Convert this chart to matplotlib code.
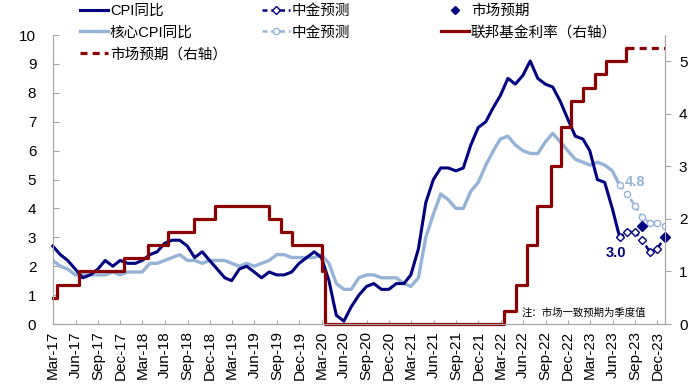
import matplotlib
matplotlib.use('Agg')
import matplotlib.pyplot as plt
from matplotlib.lines import Line2D
import pandas as pd

plt.rcParams['font.family'] = ['Liberation Sans', 'Noto Sans CJK SC', 'DejaVu Sans']

# 月度同比 (2017-02 .. 2023-06, 月末日期)
cpi = [2.7, 2.4, 2.2, 1.9, 1.6, 1.7, 1.9, 2.2, 2.0, 2.2, 2.1,
       2.1, 2.2, 2.4, 2.5, 2.8, 2.9, 2.9, 2.7, 2.3, 2.5, 2.2, 1.9,
       1.6, 1.5, 1.9, 2.0, 1.8, 1.6, 1.8, 1.7, 1.7, 1.8, 2.1, 2.3,
       2.5, 2.3, 1.5, 0.3, 0.1, 0.6, 1.0, 1.3, 1.4, 1.2, 1.2, 1.4,
       1.4, 1.7, 2.6, 4.2, 5.0, 5.4, 5.4, 5.3, 5.4, 6.2, 6.8, 7.0,
       7.5, 7.9, 8.5, 8.3, 8.6, 9.1, 8.5, 8.3, 8.2, 7.7, 7.1, 6.5,
       6.4, 6.0, 5.0, 4.9, 4.0, 3.0]
core = [2.2, 2.0, 1.9, 1.7, 1.7, 1.7, 1.7, 1.7, 1.8, 1.7, 1.8,
        1.8, 1.8, 2.1, 2.1, 2.2, 2.3, 2.4, 2.2, 2.2, 2.1, 2.2, 2.2,
        2.2, 2.1, 2.0, 2.1, 2.0, 2.1, 2.2, 2.4, 2.4, 2.3, 2.3, 2.3,
        2.3, 2.4, 2.1, 1.4, 1.2, 1.2, 1.6, 1.7, 1.7, 1.6, 1.6, 1.6,
        1.4, 1.3, 1.6, 3.0, 3.8, 4.5, 4.3, 4.0, 4.0, 4.6, 4.9, 5.5,
        6.0, 6.4, 6.5, 6.2, 6.0, 5.9, 5.9, 6.3, 6.6, 6.3, 6.0, 5.7,
        5.6, 5.5, 5.6, 5.5, 5.3, 4.8]
cpi_dates = pd.date_range('2017-02-28', '2023-06-30', freq='ME')

# 中金预测 (2023-06 .. 2023-12)
fc_dates = pd.date_range('2023-06-30', '2023-12-31', freq='ME')
cicc_cpi = [3.0, 3.2, 3.2, 2.9, 2.5, 2.6, 3.0]
cicc_core = [4.8, 4.5, 4.1, 3.7, 3.5, 3.5, 3.4]

# 市场预期 (季度)
mkt_dates = pd.to_datetime(['2023-09-30', '2023-12-31'])
mkt_cpi = [3.4, 3.0]

# 联邦基金利率 (右轴)
fed_dates = pd.to_datetime(['2017-03-01', '2017-03-16', '2017-06-15', '2017-12-14',
                            '2018-03-22', '2018-06-14', '2018-09-27', '2018-12-20',
                            '2019-08-01', '2019-09-19', '2019-10-31', '2020-03-04',
                            '2020-03-16', '2022-03-17', '2022-05-05', '2022-06-16',
                            '2022-07-28', '2022-09-22', '2022-11-03', '2022-12-15',
                            '2023-02-02', '2023-03-23', '2023-05-04', '2023-07-27',
                            '2023-07-31'])
fed_rates = [0.5, 0.75, 1.0, 1.25, 1.5, 1.75, 2.0, 2.25, 2.0, 1.75, 1.5, 1.0,
             0.0, 0.25, 0.75, 1.5, 2.25, 3.0, 3.75, 4.25, 4.5, 4.75, 5.0, 5.25,
             5.25]
fed_mkt_dates = pd.to_datetime(['2023-07-31', '2023-12-31'])
fed_mkt = [5.25, 5.25]

navy = '#000080'
lblue = '#95B3D7'
dred = '#8B0000'
grey = '#A6A6A6'

fig = plt.figure(figsize=(7, 3.89), dpi=100)
ax = fig.add_axes([0.0757, 0.167, 0.95 - 0.0757, 0.743])
ax2 = ax.twinx()

ax.plot(cpi_dates, core, color=lblue, lw=2.4, zorder=2)
ax.plot(cpi_dates, cpi, color=navy, lw=2.2, zorder=3, clip_on=False)
ax.plot(fc_dates, cicc_core, color=lblue, lw=1.8, ls=(0, (2, 1.5)), marker='o',
        ms=4.5, mfc='white', mec=lblue, mew=1, zorder=3)
ax.plot(fc_dates, cicc_cpi, color=navy, lw=1.8, ls=(0, (2, 1.5)), marker='D',
        ms=4, mfc='white', mec=navy, mew=1, zorder=4)
ax.plot(mkt_dates, mkt_cpi, ls='none', marker='D', ms=5, color=navy, zorder=5,
        clip_on=False)

ax2.step(fed_dates, fed_rates, where='post', color=dred, lw=2.3, clip_on=False)
ax2.plot(fed_mkt_dates, fed_mkt, color=dred, lw=2.3, ls=(0, (2.2, 1.6)))

ax.annotate('3.0', (cpi_dates[-1], cpi[-1]), xytext=(-3, -11.5),
            textcoords='offset points', ha='center', va='center',
            color=navy, fontsize=10.5, fontweight='bold')
ax.annotate('4.8', (fc_dates[0], cicc_core[0]), xytext=(11, 2.4),
            textcoords='offset points', ha='center', va='center',
            color=lblue, fontsize=10.5, fontweight='bold')
ax.text(0.765, 0.04, '注：市场一致预期为季度值', transform=ax.transAxes,
        fontsize=7.5, style='italic', ha='left', va='center')

ax.set_xlim(pd.Timestamp('2017-03-01'), pd.Timestamp('2024-01-01'))
ax.set_ylim(0, 10)
ax2.set_ylim(0, 5.5)
ax.set_yticks(range(0, 11))
ax2.set_yticks(range(0, 6))

ticks = pd.date_range('2017-03-01', '2023-12-01', freq='3MS')
ax.set_xticks(ticks)
ax.set_xticklabels([t.strftime('%b-%y') for t in ticks], rotation=90)

for a in (ax, ax2):
    for s in a.spines.values():
        s.set_color(grey)
    a.spines['top'].set_visible(False)
ax.tick_params(axis='y', direction='in', length=4, color=grey, labelsize=11, pad=12)
ax.tick_params(axis='x', direction='in', length=3, color=grey, labelsize=11, pad=5)
ax2.tick_params(axis='y', direction='out', length=4, color=grey, labelsize=11, pad=6)

def h(**kw):
    return Line2D([], [], **kw)

leg_kw = dict(frameon=False, fontsize=10.5, handlelength=1.9, handletextpad=0.15,
              labelspacing=0.52, borderpad=0, borderaxespad=0, loc='upper left')
top = 1 - 4 / 389
l1 = fig.legend([h(color=navy, lw=2.2), h(color=lblue, lw=2.4),
                 h(color=dred, lw=2.3, ls=(0, (2.2, 1.6)))],
                ['CPI同比', '核心CPI同比', '市场预期（右轴）'],
                bbox_to_anchor=(80 / 700, top), **leg_kw)
l2 = fig.legend([h(color=navy, lw=1.8, ls=(0, (2, 1.5)), marker='D', ms=4, mfc='white', mew=1),
                 h(color=lblue, lw=1.8, ls=(0, (2, 1.5)), marker='o', ms=4.5, mfc='white', mew=1)],
                ['中金预测', '中金预测'],
                bbox_to_anchor=(262 / 700, top), **leg_kw)
l3 = fig.legend([h(color=navy, ls='none', marker='D', ms=4.5),
                 h(color=dred, lw=2.3)],
                ['市场预期', '联邦基金利率（右轴）'],
                bbox_to_anchor=(441 / 700, top), **leg_kw)

fig.savefig('out.png', dpi=100)
